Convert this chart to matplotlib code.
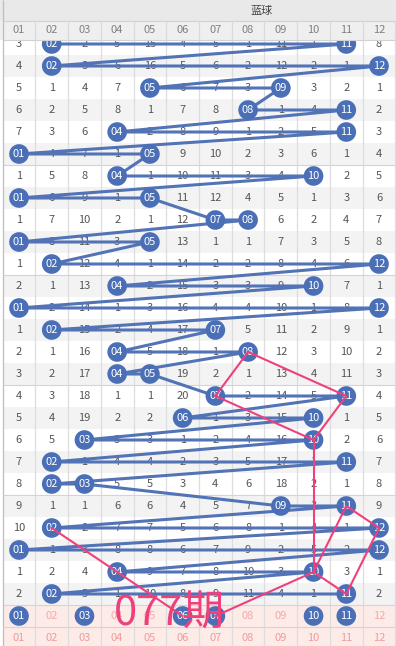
import matplotlib
matplotlib.use('Agg')
import matplotlib.pyplot as plt
from matplotlib.patches import Rectangle

plt.rcParams['font.family'] = ['Noto Sans CJK SC', 'DejaVu Sans']

title = '蓝球'
col_labels = ['01', '02', '03', '04', '05', '06', '07', '08', '09', '10', '11', '12']
period_label = '077期'

# omission values per draw row; 0 marks a drawn ball in that column
omission_rows = [
    [3, 0, 2, 5, 15, 4, 5, 1, 11, 1, 0, 8],
    [4, 0, 3, 6, 16, 5, 6, 2, 12, 2, 1, 0],
    [5, 1, 4, 7, 0, 6, 7, 3, 0, 3, 2, 1],
    [6, 2, 5, 8, 1, 7, 8, 0, 1, 4, 0, 2],
    [7, 3, 6, 0, 2, 8, 9, 1, 2, 5, 0, 3],
    [0, 4, 7, 1, 0, 9, 10, 2, 3, 6, 1, 4],
    [1, 5, 8, 0, 1, 10, 11, 3, 4, 0, 2, 5],
    [0, 6, 9, 1, 0, 11, 12, 4, 5, 1, 3, 6],
    [1, 7, 10, 2, 1, 12, 0, 0, 6, 2, 4, 7],
    [0, 8, 11, 3, 0, 13, 1, 1, 7, 3, 5, 8],
    [1, 0, 12, 4, 1, 14, 2, 2, 8, 4, 6, 0],
    [2, 1, 13, 0, 2, 15, 3, 3, 9, 0, 7, 1],
    [0, 2, 14, 1, 3, 16, 4, 4, 10, 1, 8, 0],
    [1, 0, 15, 2, 4, 17, 0, 5, 11, 2, 9, 1],
    [2, 1, 16, 0, 5, 18, 1, 0, 12, 3, 10, 2],
    [3, 2, 17, 0, 0, 19, 2, 1, 13, 4, 11, 3],
    [4, 3, 18, 1, 1, 20, 0, 2, 14, 5, 0, 4],
    [5, 4, 19, 2, 2, 0, 1, 3, 15, 0, 1, 5],
    [6, 5, 0, 3, 3, 1, 2, 4, 16, 0, 2, 6],
    [7, 0, 1, 4, 4, 2, 3, 5, 17, 1, 0, 7],
    [8, 0, 0, 5, 5, 3, 4, 6, 18, 2, 1, 8],
    [9, 1, 1, 6, 6, 4, 5, 7, 0, 3, 0, 9],
    [10, 0, 2, 7, 7, 5, 6, 8, 1, 4, 1, 0],
    [0, 1, 3, 8, 8, 6, 7, 9, 2, 5, 2, 0],
    [1, 2, 4, 0, 9, 7, 8, 10, 3, 0, 3, 1],
    [2, 0, 5, 1, 10, 8, 9, 11, 4, 1, 0, 2],
]

# highlighted picks in the forecast row
pred_balls = [1, 3, 6, 7, 10, 11]

# pink analysis links: (row, column) -> (row, column); row 27 = forecast row
pink_links = [
    ((15, 8), (17, 7)),
    ((15, 8), (17, 11)),
    ((17, 7), (19, 10)),
    ((17, 11), (19, 10)),
    ((19, 10), (25, 10)),
    ((22, 11), (23, 12)),
    ((23, 12), (26, 11)),
    ((22, 11), (25, 10)),
    ((25, 10), (26, 11)),
    ((25, 10), (27, 7)),
    ((23, 2), (27, 6)),
]

n_rows = len(omission_rows)
pred_row = n_rows + 1
foot_row = n_rows + 2

BALL = '#4a6fb7'
LINE = '#5273b6'
PINK = '#f0407c'
NUM = '#555555'

fig = plt.figure(figsize=(3.96, 6.46), dpi=100)
ax = fig.add_axes([0, 0, 1, 1])
ax.set_xlim(0.4195, 12.519)
ax.set_ylim(28.364, -1)
ax.axis('off')

# row backgrounds
for r in range(1, n_rows + 1):
    if r % 2 == 0:
        ax.add_patch(Rectangle((0.5, r - 0.5), 12, 1, color='#f3f3f3', zorder=0, lw=0))
for r in (pred_row, foot_row):
    ax.add_patch(Rectangle((0.5, r - 0.5), 12, 1, color='#fdebe8', zorder=0, lw=0))

# grid
for c in range(0, 13):
    ax.vlines(c + 0.5, -0.05, 28.6, color='#bdbdbd' if c == 0 else '#dddddd', lw=0.9, zorder=1)
for r in (6.5, 11.5, 16.5, 21.5, 26.5, 27.5):
    ax.hlines(r, 0.5, 12.5, color='#d4d4d4', lw=0.8, zorder=1)

# numbers
for ri, row in enumerate(omission_rows, start=1):
    for ci, v in enumerate(row, start=1):
        if v != 0:
            ax.text(ci, ri, str(v), ha='center', va='center', fontsize=8, color=NUM, zorder=2)

# blue path through the drawn balls
bx, by, bl = [], [], []
for ri, row in enumerate(omission_rows, start=1):
    for ci, v in enumerate(row, start=1):
        if v == 0:
            bx.append(ci)
            by.append(ri)
            bl.append(col_labels[ci - 1])
ax.plot(bx, by, color=LINE, lw=2.2, zorder=3, solid_capstyle='round')

# forecast row
for ci, lab in enumerate(col_labels, start=1):
    if ci in pred_balls:
        bx.append(ci)
        by.append(pred_row)
        bl.append(lab)
    else:
        ax.text(ci, pred_row, lab, ha='center', va='center', fontsize=8, color='#f4a9a9', zorder=2)
    ax.text(ci, foot_row, lab, ha='center', va='center', fontsize=8, color='#ee9c9c', zorder=2)

ax.scatter(bx, by, s=200, color=BALL, edgecolors='none', zorder=5)
for x, y, lab in zip(bx, by, bl):
    ax.text(x, y, lab, ha='center', va='center', fontsize=8, color='white', zorder=6)

# pink links
for (r1, c1), (r2, c2) in pink_links:
    ax.plot([c1, c2], [r1, r2], color=PINK, lw=1.5, zorder=7)

ax.text(5.6, 26.9, period_label, ha='center', va='center', fontsize=30,
        color=PINK, zorder=8)

# header
hb = 0.818
ax.add_patch(Rectangle((0.3, -1.1), 12.4, 1.055, color='#e9e9e9', zorder=10, lw=0))
ax.add_patch(Rectangle((0.3, -0.045), 12.4, hb + 0.045, color='#efefef', zorder=10, lw=0))
ax.hlines(-0.045, 0.5, 12.6, color='#d2d2d2', lw=0.8, zorder=11)
ax.hlines(hb, 0.5, 12.6, color='#d2d2d2', lw=0.8, zorder=11)
for c in range(0, 13):
    ax.vlines(c + 0.5, -0.045, hb, color='#bdbdbd' if c == 0 else '#dadada', lw=0.9, zorder=11)
ax.vlines(0.5, -1, -0.045, color='#bdbdbd', lw=0.9, zorder=11)
ax.text(8.42, -0.5, title, ha='center', va='center', fontsize=8, color='#444444', zorder=12)
for ci, lab in enumerate(col_labels, start=1):
    ax.text(ci, 0.38, lab, ha='center', va='center', fontsize=8, color='#808080', zorder=12)

fig.savefig('out.png', dpi=100)
